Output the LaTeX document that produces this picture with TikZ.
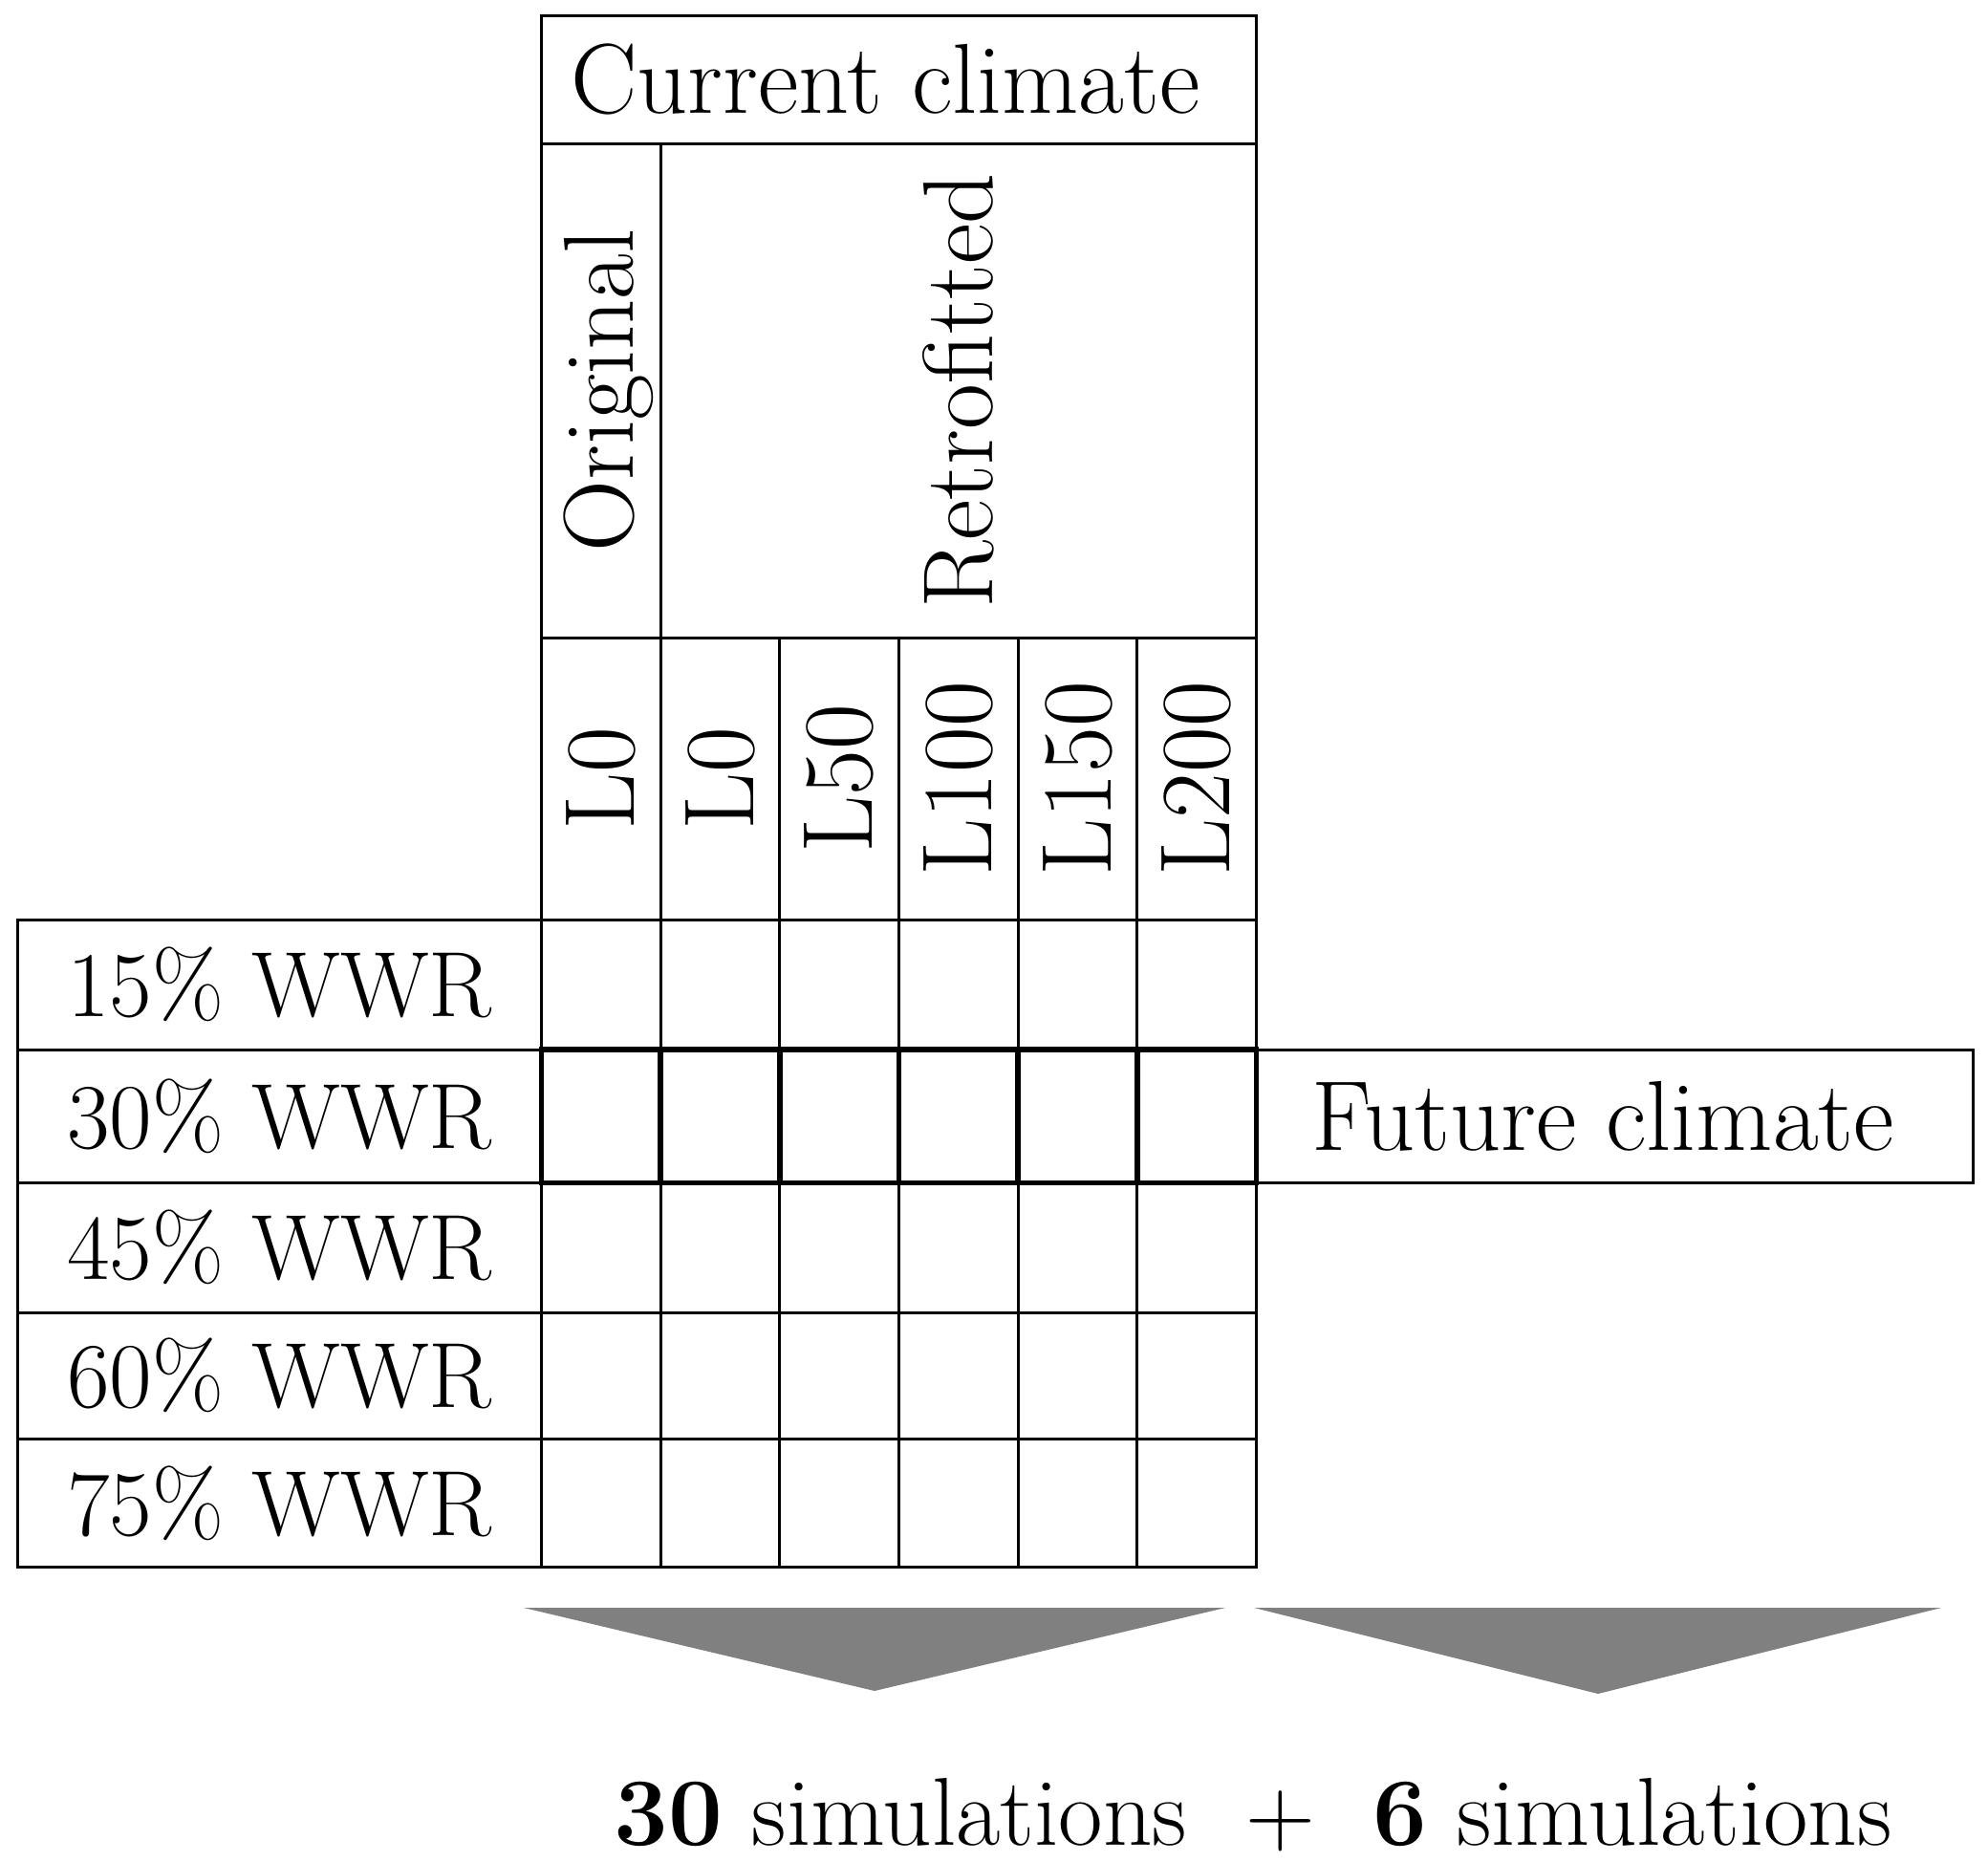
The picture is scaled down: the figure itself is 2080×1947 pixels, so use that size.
\documentclass[tikz,border=0pt]{standalone}
\usepackage{fontspec}
\setmainfont{Latin Modern Roman}
\begin{document}
\begin{tikzpicture}[x=1pt,y=-1pt,
  box/.style={draw, line width=3pt, inner sep=0pt, outer sep=0pt, font=\fontsize{104}{120}\selectfont},
  rowbox/.style={box, font=\fontsize{97}{110}\selectfont},
  boldbox/.style={box, line width=5.5pt},
  chevron/.style={fill=black!50, draw=none}]
\useasboundingbox (0,0) rectangle (2080,1947);
% header
\node[box, minimum width=748.2pt, minimum height=134pt] (cur) at (940.5,83) {};
\node[font=\fontsize{104}{120}\selectfont, inner sep=0pt] (curt) at ([xshift=-14pt]cur.center) {Current climate};
\node[box, minimum width=124.7pt, minimum height=517pt] (orig) at (628.75,408.5) {};
\node[font=\fontsize{104}{120}\selectfont, inner sep=0pt] (origt) at ([xshift=8pt]orig.center) {\rotatebox{90}{Original}};
\node[box, minimum width=623.5pt, minimum height=517pt] (retro) at (1002.85,408.5) {\rotatebox{90}{Retrofitted}};
% L labels
\foreach \x/\t [count=\i] in {628.75/L0,753.45/L0,878.15/L50,1002.85/L100,1127.55/L150,1252.25/L200}{
  \node[box, minimum width=124.7pt, minimum height=295pt] (lab\i) at (\x,814.5) {\rotatebox{90}{\t}};
}
% row labels and cells
\foreach \y/\h/\t [count=\r] in {1030/136/15,1167.8/139.6/30,1305.3/135.4/45,1439.3/132.6/60,1572.6/134/75}{
  \node[rowbox, minimum width=547.8pt, minimum height=\h pt] (row\r) at (292.5,\y) {\t\% WWR};
  \foreach \x [count=\c] in {628.75,753.45,878.15,1002.85,1127.55,1252.25}{
    \node[box, minimum width=124.7pt, minimum height=\h pt] (c\r-\c) at (\x,\y) {};
  }
}
% bold future-climate row
\foreach \x [count=\c] in {628.75,753.45,878.15,1002.85,1127.55,1252.25}{
  \node[boldbox, minimum width=124.7pt, minimum height=139.6pt] (b\c) at (\x,1167.8) {};
}
\node[box, minimum width=749.4pt, minimum height=139.6pt] (fut) at (1689.3,1167.8) {};
\node[font=\fontsize{104}{120}\selectfont, inner sep=0pt] (futt) at ([xshift=-12pt]fut.center) {Future climate};
% chevrons
\coordinate (a1l) at (548,1682); \coordinate (a1r) at (1282,1682); \coordinate (a1t) at (915,1769);
\coordinate (a2l) at (1312,1682); \coordinate (a2r) at (2031,1682); \coordinate (a2t) at (1672,1772);
\fill[chevron] (a1l) -- (a1r) -- (a1t) -- cycle;
\fill[chevron] (a2l) -- (a2r) -- (a2t) -- cycle;
% result text
\node[anchor=base, inner sep=0pt, font=\fontsize{101}{115}\selectfont] (res) at (1311,1930)
  {\textbf{30} simulations\ \ +\ \ \textbf{6} simulations};
\end{tikzpicture}
\end{document}
